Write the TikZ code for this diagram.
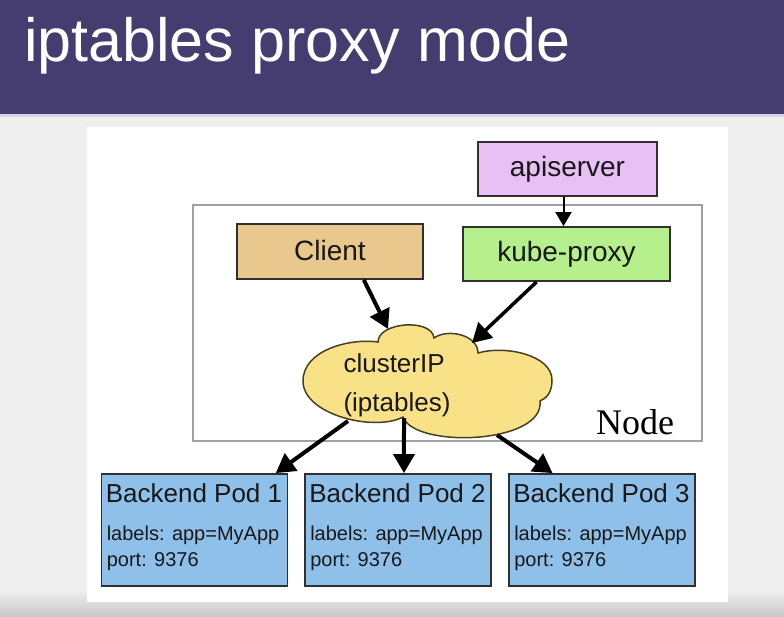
\documentclass[tikz,border=0pt]{standalone}
\usepackage{fontspec}
\setmainfont{Liberation Sans}
\newfontfamily\nodeserif{Liberation Serif}
\usetikzlibrary{arrows.meta}

\definecolor{barpurple}{RGB}{69,61,112}
\definecolor{barrule}{RGB}{214,212,232}
\definecolor{pagegray}{RGB}{239,239,240}
\definecolor{shadegray}{RGB}{198,198,198}
\definecolor{framegray}{RGB}{160,160,160}
\definecolor{boxline}{RGB}{48,48,48}
\definecolor{inktext}{RGB}{24,24,24}
\definecolor{apifill}{RGB}{232,192,246}
\definecolor{clientfill}{RGB}{232,200,140}
\definecolor{kubefill}{RGB}{182,240,140}
\definecolor{cloudfill}{RGB}{248,225,135}
\definecolor{cloudline}{RGB}{70,64,36}
\definecolor{podfill}{RGB}{143,192,234}

\tikzset{
  labelbox/.style={draw=boxline, line width=1.8pt, inner sep=0pt,
    text=inktext, font=\fontsize{28}{32}\selectfont,
    text height=21pt, text depth=6pt},
  podbox/.style={draw=boxline, line width=1.8pt, fill=podfill,
    minimum width=186pt, minimum height=112pt, inner sep=0pt},
  podtitle/.style={anchor=base west, inner sep=0pt, text=inktext,
    font=\fontsize{26}{30}\selectfont},
  podinfo/.style={anchor=base west, inner sep=0pt, text=inktext,
    font=\fontsize{20}{24}\selectfont},
  flow/.style={line width=4pt, -{Triangle[length=19pt,width=21pt]}},
  thinflow/.style={line width=2pt, -{Triangle[length=14pt,width=16pt]}}
}

\begin{document}
\begin{tikzpicture}[x=1pt,y=-1pt]
\useasboundingbox (0,0) rectangle (784,617);

% page background, bottom shadow, title bar and white sheet
\fill[pagegray] (0,0) rectangle (784,617);
\shade[top color=pagegray, bottom color=shadegray] (0,590) rectangle (784,617);
\fill[barpurple] (0,0) rectangle (784,114);
\fill[barrule] (0,114) rectangle (784,117);
\fill[white] (87,127) rectangle (728,602);

\node[anchor=base west, inner sep=0pt, text=white,
      font=\fontsize{61}{70}\selectfont] (title) at (24,62) {iptables proxy mode};

% the node frame
\node[draw=framegray, line width=1.5pt, minimum width=509pt, minimum height=236pt,
      inner sep=0pt] (nodeframe) at (447.5,323) {};
\node[anchor=base west, inner sep=0pt, font=\nodeserif\fontsize{36}{40}\selectfont]
      (nodelabel) at (596,434) {Node};

% components
\node[labelbox, fill=apifill, minimum width=179pt, minimum height=54pt]
      (api) at (567.5,169) {apiserver};
\node[labelbox, fill=clientfill, minimum width=186pt, minimum height=55pt,
      text height=25pt] (client) at (330,251.5) {Client};
\node[labelbox, fill=kubefill, minimum width=207pt, minimum height=54pt]
      (kube) at (566.5,254) {kube-proxy};

% clusterIP cloud
\filldraw[fill=cloudfill, draw=cloudline, line width=1.5pt]
  (403,417)
  .. controls (375,432) and (303,415) .. (303,381)
  .. controls (303,350) and (350,338) .. (378,342)
  .. controls (378,322) and (432,318) .. (434,338)
  .. controls (448,328) and (478,335) .. (478,353)
  .. controls (505,345) and (552,355) .. (552,380)
  .. controls (552,392) and (547,398) .. (540,401)
  .. controls (545,444) and (415,449) .. (403,417) -- cycle;
\node[align=left, inner sep=0pt, text=inktext, font=\fontsize{26}{39}\selectfont]
      (cloud) at (397,385) {clusterIP\\(iptables)};
\coordinate (cloudin1) at (388,329);
\coordinate (cloudin2) at (472,343);
\coordinate (cloudout1) at (348,421);
\coordinate (cloudout2) at (404,418);
\coordinate (cloudout3) at (497,435);

% backend pods
\node[podbox] (pod1) at (194.5,530) {};
\node[podbox] (pod2) at (398,530) {};
\node[podbox] (pod3) at (602,530) {};
\foreach \p/\n in {pod1/1,pod2/2,pod3/3}{
  \node[podtitle] at ([xshift=5pt,yshift=-29pt]\p.west |- \p.north) {Backend Pod \n};
  \node[podinfo] at ([xshift=6pt,yshift=-67pt]\p.west |- \p.north) {labels: app=MyApp};
  \node[podinfo] at ([xshift=6pt,yshift=-93pt]\p.west |- \p.north) {port: 9376};
}

% connectors
\draw[thinflow] ([xshift=-4pt]api.south) -- ([xshift=-4pt]api.south |- kube.north);
\draw[flow] (client.-40) -- (cloudin1);
\draw[flow, line width=3.5pt] (kube.-137.5) -- (cloudin2);
\draw[flow] (cloudout1) -- (pod1.35.8);
\draw[flow] (cloudout2) -- (pod2.84);
\draw[flow] (cloudout3) -- (pod3.131);
\end{tikzpicture}
\end{document}
